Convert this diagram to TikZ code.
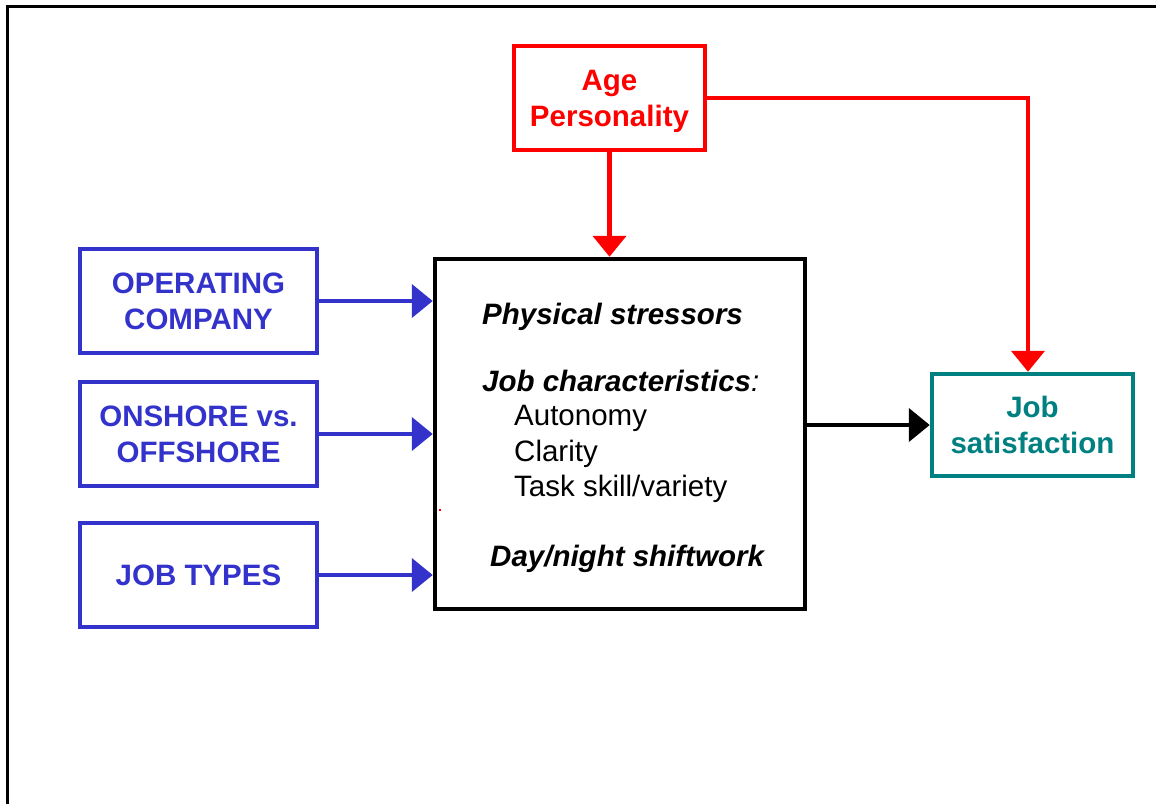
\documentclass[tikz,border=0pt]{standalone}
\usepackage{fontspec}
\setmainfont{Liberation Sans}
\usetikzlibrary{arrows.meta}
\definecolor{myblue}{RGB}{51,51,204}
\definecolor{myteal}{RGB}{0,128,128}
\definecolor{myred}{RGB}{255,0,0}
\tikzset{
  box/.style={draw, line width=4.5pt, rectangle, align=center, inner sep=0pt, text depth=0pt,
    font=\fontsize{29.5}{36}\selectfont\bfseries},
  bluebox/.style={box, draw=myblue, text=myblue, minimum width=237pt, minimum height=104pt},
  redbox/.style={box, draw=myred, text=myred, minimum width=191pt, minimum height=104pt},
  tealbox/.style={box, draw=myteal, text=myteal, minimum width=201pt, minimum height=102pt},
  mainbox/.style={draw=black, line width=4.5pt, rectangle, minimum width=370pt, minimum height=350pt, inner sep=0pt},
  conn/.style={line width=4.5pt, -{Triangle[length=21pt,width=33pt]}},
  itemtxt/.style={anchor=base west, inner sep=0pt, font=\fontsize{29.5}{36}\selectfont},
}
\begin{document}
\begin{tikzpicture}[x=1pt,y=-1pt]
\useasboundingbox (0,0) rectangle (1156,804);
% frame
\draw[line width=3.5pt] (7.5,804) -- (7.5,6.5) -- (1156,6.5);

\node[redbox] (age) at (609.5,98) {Age\\Personality};
\node[mainbox] (main) at (620,434) {};
\node[bluebox] (op) at (198.5,301) {OPERATING\\COMPANY};
\node[bluebox] (on) at (198.5,434) {ONSHORE vs.\\OFFSHORE};
\node[bluebox] (jt) at (198.5,575) {JOB TYPES};
\node[tealbox] (job) at (1032.5,425) {Job\\satisfaction};

% main box text
\node[itemtxt] (t1) at (482,324) {\bfseries\itshape Physical stressors};
\node[itemtxt] (t2) at (482,391) {\bfseries\itshape Job characteristics\mdseries:};
\node[itemtxt] (t3) at (514,425) {Autonomy};
\node[itemtxt] (t4) at (514,461) {Clarity};
\node[itemtxt] (t5) at (514,496) {Task skill/variety};
\node[itemtxt] (t6) at (490,566) {\bfseries\itshape Day/night shiftwork};

% tiny red mark
\fill[myred] (439,509) rectangle (441,511);

% connectors
\draw[conn, myblue] (op.east) -- (op.east -| main.west);
\draw[conn, myblue] (on.east) -- (on.east -| main.west);
\draw[conn, myblue] (jt.east) -- (jt.east -| main.west);
\draw[conn, myred] (age.south) -- (age.south |- main.north);
\coordinate (turn) at (1028,98);
\draw[conn, myred] (age.east) -- (turn) -- (turn |- job.north);
\draw[conn, black] (main.east |- job.west) -- (job.west);
\end{tikzpicture}
\end{document}
